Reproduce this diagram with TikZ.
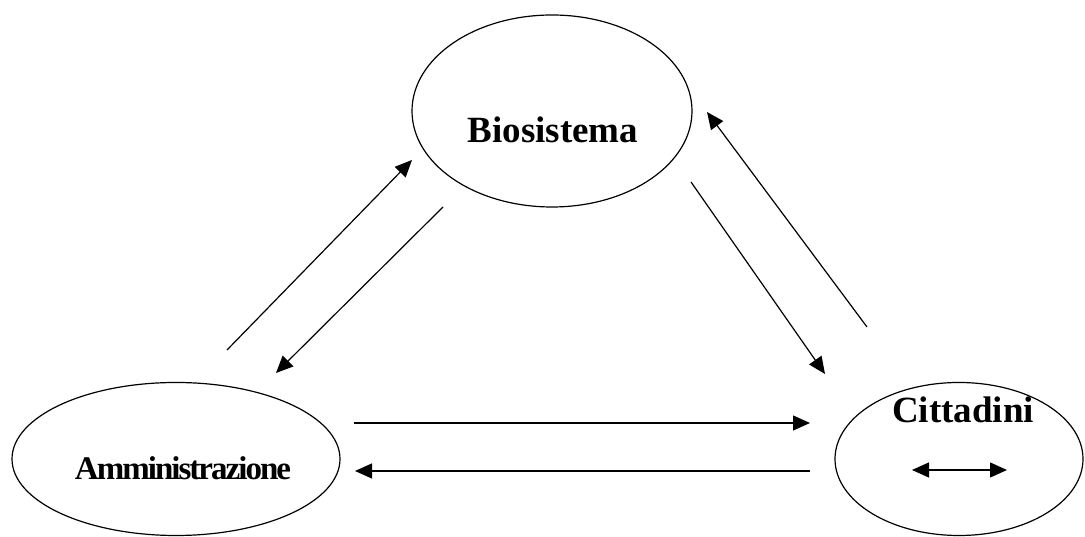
\documentclass[tikz,border=0pt]{standalone}
\usepackage{fontspec}
\setmainfont{Liberation Serif}
\usetikzlibrary{shapes.geometric,arrows.meta}

\begin{document}
\begin{tikzpicture}[x=1pt, y=1pt, line width=1.2pt, >={Triangle[length=17pt, width=15pt]},
  blob/.style={draw, ellipse, inner sep=0pt},
  blobtext/.style={anchor=base, inner sep=0pt, font=\fontsize{37}{40}\selectfont\bfseries}]
  \useasboundingbox (0,0) rectangle (1085,537);
  \node[blob, minimum width=280pt, minimum height=192pt] (bio) at (552,426) {};
  \node[blob, minimum width=328pt, minimum height=153pt] (amm) at (176,78) {};
  \node[blob, minimum width=248pt, minimum height=153pt] (cit) at (959,78) {};
  \node[blobtext] (biotxt) at (553,394) {Biosistema};
  \node[blobtext, font=\fontsize{33}{36}\selectfont\bfseries\addfontfeature{LetterSpace=-6}] (ammtxt) at (183,57) {Amministrazione};
  \node[blobtext] (cittxt) at (963,114) {Cittadini};
  \coordinate (a1) at (227,187);  \coordinate (b1) at (412,377);
  \coordinate (b2) at (443,330);  \coordinate (a2) at (276,164);
  \coordinate (b3) at (691,355);  \coordinate (c3) at (825,163);
  \coordinate (c4) at (867,210);  \coordinate (b4) at (707,425);
  \coordinate (a5) at (354,114);  \coordinate (c5) at (810,114);
  \coordinate (c6) at (810,66);   \coordinate (a6) at (355,66);
  \coordinate (cl) at (912,67);   \coordinate (cr) at (1007,67);
  \draw[->] (a1) -- (b1);
  \draw[->] (b2) -- (a2);
  \draw[->] (b3) -- (c3);
  \draw[->] (c4) -- (b4);
  \draw[->] (a5) -- (c5);
  \draw[->] (c6) -- (a6);
  \draw[<->] (cl) -- (cr);
\end{tikzpicture}
\end{document}
